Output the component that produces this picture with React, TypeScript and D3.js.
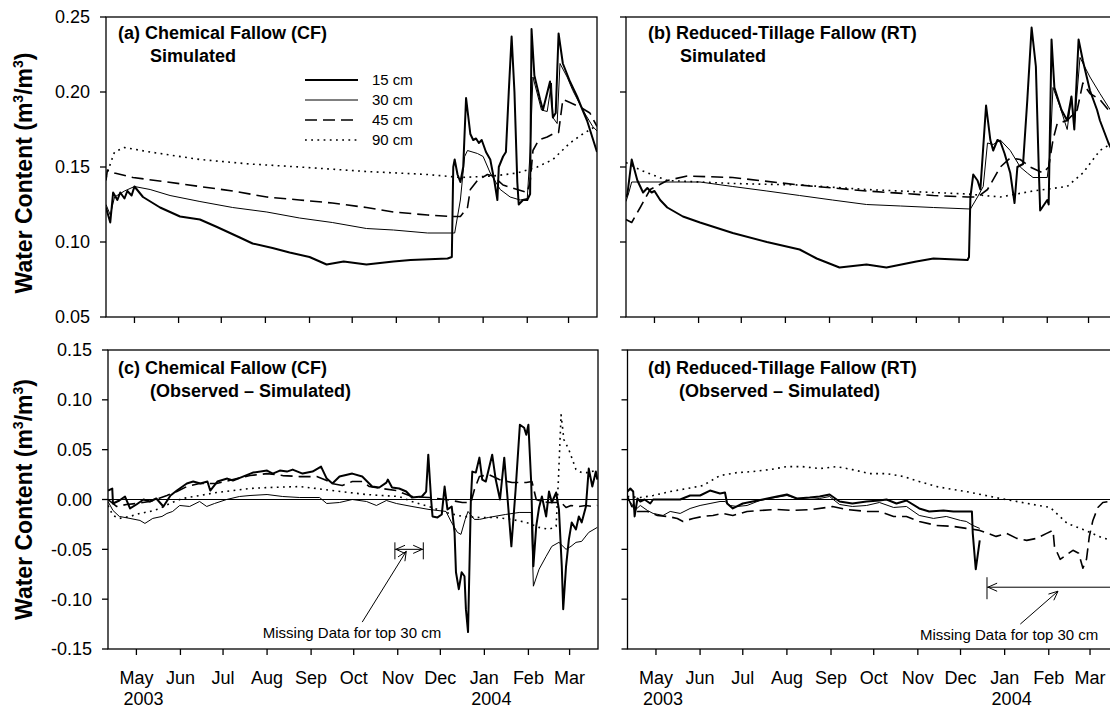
import React from "react";
import * as d3 from "d3";

type Pt = [number, number];

// ---------- axes / labels ----------
const START = new Date(2003, 3, 11);
const END = new Date(2004, 2, 21);
const MONTH_LABELS = ["May", "Jun", "Jul", "Aug", "Sep", "Oct", "Nov", "Dec", "Jan", "Feb", "Mar"];
const YEAR_LABELS: { idx: number; text: string }[] = [
  { idx: 0, text: "2003" },
  { idx: 8, text: "2004" },
];
const SIM_TICKS = [0.05, 0.1, 0.15, 0.2, 0.25];
const DIFF_TICKS = [-0.15, -0.1, -0.05, 0, 0.05, 0.1, 0.15];
const DEPTHS = ["15 cm", "30 cm", "45 cm", "90 cm"];

// ---------- data: [days since 11 Apr 2003, water content] ----------
const cfSim15: Pt[] = [[0,.123],[3,.113],[5,.133],[8,.128],[10,.133],[13,.129],[15,.134],[18,.131],[20,.137],[26,.130],[38,.123],[52,.117],[66,.115],[78,.110],[94,.103],[103,.099],[117,.096],[129,.093],[143,.090],[155,.085],[167,.087],[183,.085],[202,.087],[214,.088],[240,.089],[243,.090],[244,.150],[245,.155],[247,.145],[249,.140],[251,.150],[253,.196],[256,.172],[258,.168],[260,.169],[262,.166],[264,.168],[267,.160],[270,.155],[273,.140],[275,.128],[276,.150],[279,.157],[281,.160],[283,.200],[285,.237],[287,.200],[289,.140],[290,.125],[293,.128],[296,.128],[298,.132],[299,.242],[301,.211],[305,.195],[307,.188],[312,.207],[314,.183],[316,.186],[318,.239],[321,.219],[326,.207],[331,.197],[334,.190],[338,.181],[345,.160]];
const cfSim30: Pt[] = [[0,.125],[3,.118],[6,.130],[13,.134],[20,.137],[31,.135],[45,.131],[66,.127],[89,.123],[113,.120],[136,.116],[159,.113],[183,.109],[202,.108],[226,.106],[245,.106],[249,.128],[252,.157],[254,.161],[261,.159],[265,.157],[270,.146],[277,.135],[284,.130],[291,.128],[296,.129],[298,.160],[300,.210],[306,.188],[310,.187],[313,.206],[314,.183],[317,.179],[319,.219],[324,.210],[328,.201],[335,.188],[342,.177],[345,.174]];
const cfSim45: Pt[] = [[0,.141],[1,.148],[6,.146],[19,.143],[43,.140],[66,.137],[89,.134],[113,.130],[136,.128],[159,.126],[183,.123],[202,.120],[226,.118],[242,.117],[249,.117],[254,.123],[256,.135],[261,.141],[268,.145],[272,.144],[279,.138],[289,.135],[296,.133],[298,.140],[300,.161],[304,.168],[310,.170],[314,.172],[318,.173],[321,.195],[326,.193],[333,.190],[340,.186],[345,.177]];
const cfSim90: Pt[] = [[0,.143],[3,.152],[6,.160],[13,.163],[31,.160],[66,.155],[101,.152],[136,.150],[183,.147],[226,.145],[249,.143],[272,.144],[289,.146],[303,.150],[314,.155],[326,.166],[335,.172],[342,.176],[345,.177]];

const rtSim15: Pt[] = [[0,.130],[1,.132],[4,.155],[8,.141],[12,.133],[15,.136],[18,.133],[20,.134],[24,.128],[29,.123],[40,.117],[52,.113],[75,.106],[99,.100],[122,.095],[134,.089],[150,.083],[169,.085],[183,.083],[204,.087],[216,.089],[240,.088],[241,.090],[242,.130],[244,.145],[247,.141],[249,.135],[253,.191],[256,.168],[258,.161],[261,.168],[263,.167],[266,.159],[270,.146],[273,.126],[275,.150],[279,.152],[282,.195],[285,.243],[288,.217],[290,.150],[291,.121],[296,.128],[297,.125],[299,.235],[301,.203],[306,.188],[310,.181],[313,.197],[315,.175],[318,.235],[321,.221],[326,.201],[331,.188],[333,.181],[339,.166],[344,.156]];
const rtSim30: Pt[] = [[0,.127],[2,.133],[4,.140],[24,.140],[52,.140],[75,.137],[99,.134],[122,.131],[145,.128],[169,.125],[193,.124],[216,.123],[242,.122],[247,.130],[251,.137],[254,.166],[258,.165],[263,.168],[270,.161],[277,.150],[282,.146],[286,.143],[296,.143],[298,.160],[300,.203],[305,.190],[310,.175],[313,.197],[315,.177],[319,.223],[326,.210],[333,.199],[339,.190],[344,.183]];
const rtSim45: Pt[] = [[0,.115],[4,.113],[10,.123],[17,.135],[29,.141],[43,.144],[75,.143],[122,.138],[169,.134],[216,.131],[240,.130],[247,.130],[254,.135],[263,.150],[270,.156],[277,.155],[284,.150],[293,.146],[297,.150],[300,.168],[303,.179],[310,.181],[317,.188],[321,.206],[326,.199],[333,.195],[339,.188],[344,.180]];
const rtSim90: Pt[] = [[0,.153],[10,.148],[29,.141],[75,.139],[122,.138],[169,.135],[216,.133],[240,.132],[263,.130],[286,.134],[310,.137],[321,.146],[333,.161],[340,.165],[344,.167]];

const cfDiff15: Pt[] = [[0,.009],[3,.011],[3.5,-.004],[8,-.001],[12,.003],[15.5,-.009],[20,-.005],[25,0],[29.5,-.002],[34,.001],[39,-.007],[44,.004],[48.5,.009],[55.5,.016],[60,.018],[65,.016],[70,.018],[72,.009],[77,.018],[84,.021],[88,.019],[95,.023],[102,.027],[112,.029],[116,.026],[121,.029],[126,.028],[130,.030],[137,.026],[144,.028],[150,.033],[154,.021],[158,.016],[163,.023],[172,.026],[179,.023],[186,.013],[191,.012],[196,.017],[197,.020],[200,.012],[205,.011],[210,.008],[214,.002],[221,.003],[224,.008],[225.5,.045],[227.5,0],[228.5,-.017],[232,-.018],[235,-.015],[237,.013],[239,-.010],[242,-.007],[244,-.033],[245,-.073],[247,-.090],[249,-.073],[251,-.077],[252,-.110],[253.5,-.133],[255.5,0],[256.5,.028],[259,.027],[261.5,.042],[263.5,.020],[266,.018],[270.5,.045],[273,.020],[276,0],[279,.042],[281,.007],[284,-.047],[287,.010],[290,.075],[293,.072],[294.5,.065],[296,.075],[298,.016],[299.5,-.067],[301.5,-.027],[303.5,-.008],[305.5,.003],[308.5,-.017],[310.5,.008],[312.5,-.003],[315.5,.007],[317.5,-.010],[319.5,-.067],[320.5,-.110],[322.5,-.067],[324.5,-.040],[326.5,-.023],[329.5,-.030],[331.5,-.017],[333.5,-.023],[336.5,-.007],[338.5,.031],[341,.013],[343.5,.028],[344.5,.020]];
const cfDiff30: Pt[] = [[0,-.002],[3.5,-.011],[8,-.017],[15.5,-.019],[22.5,-.021],[26,-.024],[31.5,-.019],[38,-.017],[41.5,-.014],[45.5,-.012],[50.5,-.006],[57.5,-.007],[64.5,-.002],[69.5,-.007],[75,-.004],[83.5,0],[92.5,.003],[100,.004],[112,.005],[123,.003],[135,.002],[149,.002],[154,-.004],[163,-.003],[172,0],[182,-.002],[189,-.006],[196,-.001],[203,-.004],[214,-.007],[226,-.010],[238,-.012],[241.5,-.022],[246,-.033],[248.5,-.035],[251.5,-.020],[253.5,-.012],[258,-.020],[261.5,-.020],[268,-.018],[280,-.015],[289.5,-.013],[298,-.013],[299.5,-.087],[303.5,-.070],[308.5,-.057],[312.5,-.047],[317.5,-.043],[322.5,-.050],[326,-.047],[329.5,-.043],[333.5,-.042],[338.5,-.033],[344.5,-.028]];
const cfDiff45: Pt[] = [[0,0],[6,-.007],[13,-.005],[20,-.004],[29.5,-.002],[41.5,.004],[48.5,.008],[55.5,.013],[64.5,.016],[76.5,.016],[88,.020],[100,.024],[112,.026],[123,.024],[135,.023],[147,.023],[154,.019],[158,.016],[165,.014],[172,.018],[179,.018],[184,.013],[193,.011],[203,.009],[214,.003],[226,.002],[238,0],[249.5,-.003],[255.5,-.003],[258,.010],[261.5,.023],[268,.025],[275.5,.020],[284.5,.017],[294.5,.017],[298.5,.018],[301.5,0],[305.5,-.002],[310.5,-.003],[319,-.003],[322.5,-.008],[326,-.006],[331.5,-.007],[336.5,-.006],[341,-.007],[344.5,-.006]];
const cfDiff90: Pt[] = [[0,-.006],[3.5,-.016],[8,-.019],[15.5,-.017],[22.5,-.014],[29.5,-.012],[36.5,-.009],[43.5,-.004],[52.5,.001],[64.5,.004],[76.5,.007],[88,.009],[100,.011],[112,.012],[135,.013],[147,.011],[158,.009],[170,.007],[182,.005],[193,.004],[205,.003],[214,-.002],[226,-.007],[238,-.013],[249.5,-.017],[261.5,-.018],[273.5,-.018],[284.5,-.020],[294.5,-.023],[303.5,-.028],[310.5,-.030],[315.5,-.027],[317,.016],[319,.085],[321,.060],[324.5,.050],[329.5,.030],[333.5,.027],[338.5,.027],[344.5,.030]];

const rtDiff15: Pt[] = [[0,.008],[2,.011],[4,.008],[5,-.017],[7,.001],[9,-.002],[12,0],[16,-.004],[18,0],[30,0],[37,0],[44,.004],[51,.004],[58,.009],[65,.006],[68.5,.007],[70,-.004],[74,-.009],[81,-.004],[88,-.002],[95,0],[105,.003],[112,.005],[119,.001],[128,.002],[135,.003],[142,.005],[149,-.002],[158,-.004],[168,-.002],[177,-.001],[182,0],[189,-.004],[196,-.001],[205,-.009],[212,-.012],[222,-.011],[229,-.012],[238,-.012],[242,-.012],[242.6,-.034],[244.7,-.070],[247.5,-.041]];
const rtDiff30: Pt[] = [[0,0],[3,-.004],[5,-.011],[9,-.006],[14,-.011],[18,-.014],[25,-.016],[30,-.012],[37,-.014],[44,-.009],[51,-.006],[58,-.004],[65,-.002],[68.5,-.002],[72,-.006],[77,-.007],[84,-.006],[93,-.001],[100,.001],[112,.004],[119,.001],[128,0],[135,.001],[142,.003],[149,-.005],[158,-.007],[168,-.006],[177,-.003],[187,-.008],[196,-.007],[205,-.016],[215,-.019],[224,-.017],[234,-.021],[238,-.022],[242.6,-.026],[247.5,-.029]];
const rtDiff45: Pt[] = [[0,.003],[3,-.007],[7,-.012],[14,-.012],[21,-.016],[28,-.017],[35,-.019],[39,-.022],[46,-.019],[53,-.017],[60,-.016],[67,-.014],[74,-.016],[84,-.012],[93,-.011],[105,-.010],[116,-.011],[130,-.010],[140,-.008],[144,-.007],[154,-.010],[168,-.012],[177,-.012],[187,-.017],[196,-.017],[205,-.022],[217,-.026],[229,-.027],[238,-.029],[247.5,-.031],[259,-.037],[266.5,-.034],[273.5,-.039],[280.5,-.041],[287.5,-.039],[294.5,-.034],[299,-.031],[300,-.047],[304,-.060],[309,-.055],[313,-.051],[317,-.054],[320,-.069],[322.5,-.060],[324.5,-.037],[327,-.021],[330.5,-.008],[334,-.003],[338,-.002],[344,0]];
const rtDiff90: Pt[] = [[0,.003],[9,.002],[18,.004],[30,.008],[42,.011],[53,.014],[65,.024],[77,.027],[88,.028],[100,.030],[112,.033],[123,.033],[135,.031],[147,.033],[158,.030],[170,.026],[182,.026],[194,.023],[205,.018],[217,.013],[229,.010],[238,.008],[262,.001],[285,-.005],[297,-.008],[309,-.024],[320,-.030],[333,-.038],[344,-.043]];

// annotation: missing-data spans (days) and label anchor (days, value)
const cfMissingSpan = [202, 222];
const cfMissingLevel = -0.05;
const cfNote = { text: [109, -0.139], tail: [179, -0.123], head: [210, -0.052] };
const rtMissingSpan = [252.6, 362];
const rtMissingLevel = -0.088;
const rtNote = { text: [205.5, -0.141], tail: [276, -0.125], head: [302.5, -0.092] };

// ---------- helpers ----------
const toDate = (d: number) => new Date(START.getTime() + d * 86400000);
const FONT = "'Liberation Sans', Arial, Helvetica, sans-serif";
const STYLES = [
  { w: 2, dash: undefined as string | undefined },
  { w: 1, dash: undefined },
  { w: 1.6, dash: "12,6" },
  { w: 1.6, dash: "1.8,4.4" },
];
const tickDates = d3.timeMonth.range(new Date(2003, 4, 1), new Date(2004, 2, 2));
const fmt = (v: number) => (Math.abs(v) < 1e-9 ? "0.00" : v.toFixed(2));

type PanelCfg = {
  id: string;
  left: number; right: number; top: number; bottom: number;
  yDomain: [number, number];
  yTicks: number[];
  yLabels: boolean;
  xLabels: boolean;
  zero: boolean;
  titles: { text: string; x: number; y: number }[];
  series: Pt[][];
};

const PANELS: PanelCfg[] = [
  { id: "a", left: 106, right: 597, top: 17, bottom: 317, yDomain: [0.05, 0.25], yTicks: SIM_TICKS, yLabels: true, xLabels: false, zero: false,
    titles: [{ text: "(a) Chemical Fallow (CF)", x: 118, y: 38.5 }, { text: "Simulated", x: 150, y: 61.5 }],
    series: [cfSim15, cfSim30, cfSim45, cfSim90] },
  { id: "b", left: 626, right: 1117, top: 17, bottom: 317, yDomain: [0.05, 0.25], yTicks: SIM_TICKS, yLabels: false, xLabels: false, zero: false,
    titles: [{ text: "(b) Reduced-Tillage Fallow (RT)", x: 648, y: 38.5 }, { text: "Simulated", x: 680, y: 61.5 }],
    series: [rtSim15, rtSim30, rtSim45, rtSim90] },
  { id: "c", left: 108, right: 598, top: 350, bottom: 649, yDomain: [-0.15, 0.15], yTicks: DIFF_TICKS, yLabels: true, xLabels: true, zero: true,
    titles: [{ text: "(c) Chemical Fallow (CF)", x: 118, y: 373.5 }, { text: "(Observed \u2013 Simulated)", x: 150, y: 396.5 }],
    series: [cfDiff15, cfDiff30, cfDiff45, cfDiff90] },
  { id: "d", left: 627.5, right: 1118.5, top: 350, bottom: 649, yDomain: [-0.15, 0.15], yTicks: DIFF_TICKS, yLabels: false, xLabels: true, zero: true,
    titles: [{ text: "(d) Reduced-Tillage Fallow (RT)", x: 648, y: 373.5 }, { text: "(Observed \u2013 Simulated)", x: 679, y: 396.5 }],
    series: [rtDiff15, rtDiff30, rtDiff45, rtDiff90] },
];

function arrowHead(x1: number, y1: number, x2: number, y2: number, len = 10, ang = 0.42) {
  // open head at (x2,y2) pointing from (x1,y1)
  const a = Math.atan2(y2 - y1, x2 - x1);
  const p1 = [x2 - len * Math.cos(a - ang), y2 - len * Math.sin(a - ang)];
  const p2 = [x2 - len * Math.cos(a + ang), y2 - len * Math.sin(a + ang)];
  return `M${p1[0]},${p1[1]}L${x2},${y2}L${p2[0]},${p2[1]}`;
}

function Panel({ cfg }: { cfg: PanelCfg }) {
  const x = d3.scaleTime().domain([START, END]).range([cfg.left, cfg.right]);
  const y = d3.scaleLinear().domain(cfg.yDomain).range([cfg.bottom, cfg.top]);
  const line = d3.line<Pt>().x((p) => x(toDate(p[0]))).y((p) => y(p[1]));
  const clipId = `clip-${cfg.id}`;
  return (
    <g>
      <defs>
        <clipPath id={clipId}>
          <rect x={cfg.left} y={cfg.top} width={cfg.right - cfg.left} height={cfg.bottom - cfg.top} />
        </clipPath>
      </defs>
      {cfg.zero && (
        <line x1={cfg.left} x2={cfg.right} y1={y(0)} y2={y(0)} stroke="#000" strokeWidth={1} />
      )}
      <g clipPath={`url(#${clipId})`}>
        {cfg.series.map((s, i) => (
          <path key={i} d={line(s) || ""} fill="none" stroke="#000" strokeWidth={STYLES[i].w}
            strokeDasharray={STYLES[i].dash} strokeLinejoin="round" />
        ))}
      </g>
      <rect x={cfg.left} y={cfg.top} width={cfg.right - cfg.left} height={cfg.bottom - cfg.top}
        fill="none" stroke="#000" strokeWidth={1.3} />
      {cfg.yTicks.map((t) => (
        <g key={t}>
          <line x1={cfg.left - 6} x2={cfg.left} y1={y(t)} y2={y(t)} stroke="#000" strokeWidth={1.3} />
          {cfg.yLabels && (
            <text x={cfg.left - 16} y={y(t)} dy="0.36em" textAnchor="end" fontSize={18} fontFamily={FONT}>
              {fmt(t)}
            </text>
          )}
        </g>
      ))}
      {tickDates.map((t, i) => (
        <g key={i}>
          <line x1={x(t)} x2={x(t)} y1={cfg.bottom} y2={cfg.bottom + 6} stroke="#000" strokeWidth={1.3} />
          {cfg.xLabels && (
            <text x={x(t)} y={684} textAnchor="middle" fontSize={18} fontFamily={FONT}>
              {MONTH_LABELS[i]}
            </text>
          )}
        </g>
      ))}
      {cfg.xLabels &&
        YEAR_LABELS.map((yl) => (
          <text key={yl.text} x={x(tickDates[yl.idx]) + 7} y={705} textAnchor="middle" fontSize={18} fontFamily={FONT}>
            {yl.text}
          </text>
        ))}
      {cfg.titles.map((t, i) => (
        <text key={i} x={t.x} y={t.y} fontSize={18} fontWeight="bold" fontFamily={FONT}>
          {t.text}
        </text>
      ))}
    </g>
  );
}

export default function App() {
  const pa = PANELS[0];
  const pc = PANELS[2];
  const pd = PANELS[3];
  const xc = d3.scaleTime().domain([START, END]).range([pc.left, pc.right]);
  const yc = d3.scaleLinear().domain(pc.yDomain).range([pc.bottom, pc.top]);
  const xd = d3.scaleTime().domain([START, END]).range([pd.left, pd.right]);
  const yd = d3.scaleLinear().domain(pd.yDomain).range([pd.bottom, pd.top]);

  // legend geometry (panel a)
  const legX1 = 305, legX2 = 358, legY0 = 80, legDy = 20;

  // CF annotation
  const cA = xc(toDate(cfMissingSpan[0])), cB = xc(toDate(cfMissingSpan[1])), cY = yc(cfMissingLevel);
  const cTail = [xc(toDate(cfNote.tail[0])), yc(cfNote.tail[1])];
  const cHead = [xc(toDate(cfNote.head[0])), yc(cfNote.head[1])];
  // RT annotation
  const dA = xd(toDate(rtMissingSpan[0])), dB = xd(toDate(rtMissingSpan[1])), dY = yd(rtMissingLevel);
  const dTail = [xd(toDate(rtNote.tail[0])), yd(rtNote.tail[1])];
  const dHead = [xd(toDate(rtNote.head[0])), yd(rtNote.head[1])];

  return (
    <svg width={1110} height={711} style={{ position: "absolute", left: 0, top: 0, background: "#fff" }}
      fontFamily={FONT}>
      <rect x={0} y={0} width={1110} height={711} fill="#fff" />
      {PANELS.map((p) => (
        <Panel key={p.id} cfg={p} />
      ))}

      {/* legend */}
      {DEPTHS.map((d, i) => (
        <g key={d}>
          <line x1={legX1} x2={legX2} y1={legY0 + i * legDy} y2={legY0 + i * legDy} stroke="#000"
            strokeWidth={STYLES[i].w} strokeDasharray={STYLES[i].dash} />
          <text x={372} y={legY0 + i * legDy} dy="0.36em" fontSize={15}>{d}</text>
        </g>
      ))}

      {/* y axis titles */}
      {[pa, pc].map((p) => (
        <text key={p.id} transform={`translate(32,${(p.top + p.bottom) / 2 + (p.id === "a" ? 6 : 0)}) rotate(-90)`}
          textAnchor="middle" fontSize={23} fontWeight="bold">
          Water Content (m<tspan dy={-9} fontSize={14}>3</tspan>
          <tspan dy={9}>/m</tspan>
          <tspan dy={-9} fontSize={14}>3</tspan>
          <tspan dy={9}>)</tspan>
        </text>
      ))}

      {/* CF missing data annotation */}
      <g stroke="#000" strokeWidth={1} fill="none">
        <line x1={cA} x2={cB} y1={cY} y2={cY} />
        <line x1={cA} x2={cA} y1={cY - 7} y2={cY + 10} />
        <line x1={cB} x2={cB} y1={cY - 7} y2={cY + 10} />
        <path d={arrowHead(cB, cY, cA + 1, cY)} />
        <path d={arrowHead(cA, cY, cB - 1, cY)} />
        <line x1={cTail[0]} y1={cTail[1]} x2={cHead[0]} y2={cHead[1]} />
        <path d={arrowHead(cTail[0], cTail[1], cHead[0], cHead[1])} />
      </g>
      <text x={xc(toDate(cfNote.text[0]))} y={yc(cfNote.text[1])} fontSize={15}>Missing Data for top 30 cm</text>

      {/* RT missing data annotation */}
      <g stroke="#000" strokeWidth={1} fill="none">
        <line x1={dA} x2={dB} y1={dY} y2={dY} />
        <line x1={dA} x2={dA} y1={dY - 10} y2={dY + 12} />
        <path d={arrowHead(dB, dY, dA + 1, dY)} />
        <line x1={dTail[0]} y1={dTail[1]} x2={dHead[0]} y2={dHead[1]} />
        <path d={arrowHead(dTail[0], dTail[1], dHead[0], dHead[1])} />
      </g>
      <text x={xd(toDate(rtNote.text[0]))} y={yd(rtNote.text[1])} fontSize={15}>Missing Data for top 30 cm</text>
    </svg>
  );
}
